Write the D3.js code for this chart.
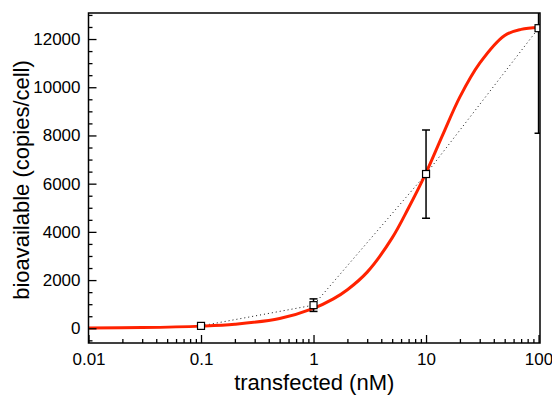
<!DOCTYPE html>
<html>
<head>
<meta charset="utf-8">
<script src="https://cdn.jsdelivr.net/npm/d3@7"></script>
<style>
  html, body { margin: 0; padding: 0; background: #fff; }
  svg { display: block; font-family: "Liberation Sans", Arial, Helvetica, sans-serif; }
</style>
</head>
<body>
<svg id="chart" width="552" height="397"></svg>
<script>
// Measured concentrations and bioavailable copies per cell
const concentrations = [0.1, 1, 10, 100];
const copies = [100, 960, 6400, 12450];
const copiesErr = [30, 260, 1830, 4360];

// Fitted dose-response curve, sampled along the concentration axis
const fitX = [0.01, 0.03, 0.1, 0.2, 0.5, 1, 1.5, 2, 3, 5, 7, 10, 14, 20, 30, 50, 70, 100];
const fitY = [15, 30, 90, 170, 410, 830, 1220, 1600, 2330, 3750, 5000, 6450, 8000, 9600, 11000, 12150, 12400, 12480];

// Axis ticks
const xTickValues = [0.01, 0.1, 1, 10, 100];
const xTickLabels = ["0.01", "0.1", "1", "10", "100"];
const yTickValues = [0, 2000, 4000, 6000, 8000, 10000, 12000];

const xTitle = "transfected (nM)";
const yTitle = "bioavailable (copies/cell)";

const plot = { left: 88.5, right: 540, top: 13, bottom: 343 };

const svg = d3.select("#chart");

const x = d3.scaleLog().domain([0.01, 103]).range([plot.left, plot.right]);
const y = d3.scaleLinear().domain([-610, 13080]).range([plot.bottom, plot.top]);

svg.append("defs").append("clipPath").attr("id", "plotClip")
  .append("rect")
  .attr("x", plot.left).attr("y", plot.top)
  .attr("width", plot.right - plot.left).attr("height", plot.bottom - plot.top);

const inner = svg.append("g").attr("clip-path", "url(#plotClip)");

// Dotted line joining the measured points
const pts = concentrations.map((c, i) => ({ x: c, y: copies[i], e: copiesErr[i] }));
inner.append("path")
  .datum(pts)
  .attr("fill", "none")
  .attr("stroke", "#111")
  .attr("stroke-width", 1)
  .attr("stroke-dasharray", "1,3")
  .attr("d", d3.line().x(d => x(d.x)).y(d => y(d.y)));

// Fitted curve
const fit = fitX.map((c, i) => ({ x: c, y: fitY[i] }));
inner.append("path")
  .datum(fit)
  .attr("fill", "none")
  .attr("stroke", "#ff2200")
  .attr("stroke-width", 3)
  .attr("stroke-linejoin", "round")
  .attr("d", d3.line().x(d => x(d.x)).y(d => y(d.y)).curve(d3.curveCatmullRom.alpha(0.5)));

// Error bars
const capW = 4;
const eb = inner.append("g").attr("stroke", "#000").attr("stroke-width", 1.5).attr("fill", "none");
pts.forEach(d => {
  const cx = x(d.x);
  eb.append("line").attr("x1", cx).attr("x2", cx).attr("y1", y(d.y - d.e)).attr("y2", y(d.y + d.e));
  eb.append("line").attr("x1", cx - capW).attr("x2", cx + capW).attr("y1", y(d.y - d.e)).attr("y2", y(d.y - d.e));
  eb.append("line").attr("x1", cx - capW).attr("x2", cx + capW).attr("y1", y(d.y + d.e)).attr("y2", y(d.y + d.e));
});

// Square markers
inner.append("g").selectAll("rect")
  .data(pts)
  .join("rect")
  .attr("x", d => x(d.x) - 3.5)
  .attr("y", d => y(d.y) - 3.5)
  .attr("width", 7).attr("height", 7)
  .attr("fill", "#fff")
  .attr("stroke", "#000")
  .attr("stroke-width", 1.2);

// Frame
svg.append("rect")
  .attr("x", plot.left).attr("y", plot.top)
  .attr("width", plot.right - plot.left).attr("height", plot.bottom - plot.top)
  .attr("fill", "none").attr("stroke", "#000").attr("stroke-width", 1.5);

// X axis: inward ticks, majors labelled
const xMinor = [];
for (let dec = 0.01; dec < 100; dec *= 10) {
  for (let k = 2; k <= 9; k++) xMinor.push(+(dec * k).toPrecision(3));
}
const xAxisMinor = d3.axisBottom(x).tickValues(xMinor).tickSize(-4).tickFormat("");
const xAxisMajor = d3.axisBottom(x).tickValues(xTickValues).tickSize(-8)
  .tickFormat((d, i) => xTickLabels[i]).tickPadding(10);

function styleAxis(g) {
  g.select(".domain").remove();
  g.selectAll(".tick line").attr("stroke", "#000").attr("stroke-width", 1.3);
  g.selectAll(".tick text").attr("fill", "#000").attr("font-size", 17)
    .attr("font-family", "'Liberation Sans', Arial, Helvetica, sans-serif");
}

svg.append("g").attr("transform", `translate(0,${plot.bottom})`).call(xAxisMinor).call(styleAxis);
svg.append("g").attr("transform", `translate(0,${plot.bottom})`).call(xAxisMajor).call(styleAxis);

// Y axis: inward ticks, minor every 500
const yMinor = d3.range(-500, 13001, 500).filter(v => v % 2000 !== 0);
const yAxisMinor = d3.axisLeft(y).tickValues(yMinor).tickSize(-4).tickFormat("");
const yAxisMajor = d3.axisLeft(y).tickValues(yTickValues).tickSize(-8)
  .tickFormat(d3.format("d")).tickPadding(8);

svg.append("g").attr("transform", `translate(${plot.left},0)`).call(yAxisMinor).call(styleAxis);
svg.append("g").attr("transform", `translate(${plot.left},0)`).call(yAxisMajor).call(styleAxis);

// Axis titles
svg.append("text")
  .attr("x", (plot.left + plot.right) / 2)
  .attr("y", 390)
  .attr("text-anchor", "middle")
  .attr("font-size", 22)
  .attr("fill", "#000")
  .text(xTitle);

svg.append("text")
  .attr("transform", `translate(28.5,${(plot.top + plot.bottom) / 2 + 2}) rotate(-90)`)
  .attr("text-anchor", "middle")
  .attr("font-size", 22)
  .attr("fill", "#000")
  .text(yTitle);
</script>
</body>
</html>
